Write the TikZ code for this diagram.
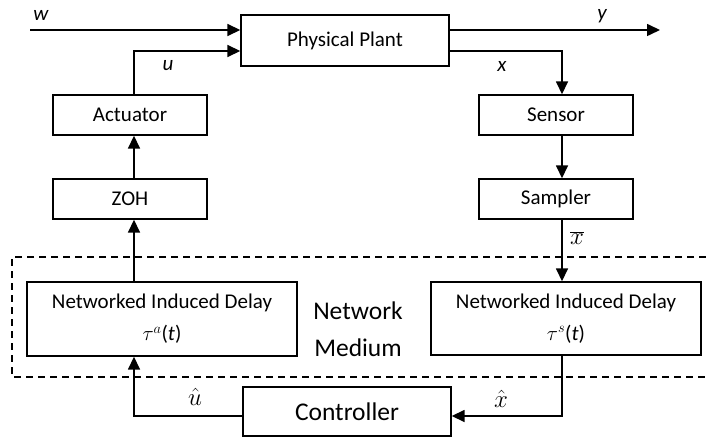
\documentclass[tikz,border=0pt]{standalone}
\usepackage{fontspec}
\setmainfont{Carlito}
\usetikzlibrary{arrows.meta}
\begin{document}
\begin{tikzpicture}[x=1pt,y=-1pt,
  blk/.style={draw,line width=1.4pt,inner sep=0pt,font=\fontsize{21}{25}\selectfont,align=center},
  nid/.style={blk,font=\fontsize{21}{32}\selectfont},
  conn/.style={line width=1.6pt},
  arr/.style={conn,-{Triangle[length=13pt,width=12pt]}},
  lbl/.style={font=\fontsize{21}{25}\selectfont\itshape,inner sep=0pt},
  mlbl/.style={font=\fontsize{23}{25}\selectfont,inner sep=0pt},
  big/.style={font=\fontsize{25.5}{37}\selectfont,align=center,inner sep=0pt}]
\useasboundingbox (0,0) rectangle (706,438);

% blocks
\node[blk,minimum width=208pt,minimum height=51pt] (plant) at (345,40.5) {Physical Plant};
\node[blk,minimum width=154pt,minimum height=40pt] (act) at (130,115) {\raisebox{-3pt}{Actuator}};
\node[blk,minimum width=154pt,minimum height=40pt] (zoh) at (130,199) {\raisebox{-2pt}{ZOH}};
\node[blk,minimum width=154pt,minimum height=40pt] (sensor) at (556,115) {\raisebox{-3pt}{Sensor}};
\node[blk,minimum width=154pt,minimum height=40pt] (sampler) at (556,199) {\raisebox{-3pt}{Sampler}};
\node[nid,minimum width=270pt,minimum height=74pt] (nida) at (162,319) {Networked Induced Delay\\$\tau^{a}$(\textit{t})};
\node[nid,minimum width=270pt,minimum height=73pt] (nids) at (566,318.5) {Networked Induced Delay\\$\tau^{s}$(\textit{t})};
\node[blk,font=\fontsize{25.5}{30}\selectfont,minimum width=208pt,minimum height=49pt] (ctrl) at (347,411.5) {Controller};

% network medium
\draw[line width=1.4pt,dash pattern=on 7pt off 5pt] (706,257) -- (12,257) -- (12,377) -- (706,377);
\node[big] (nm) at (358,329.5) {Network\\Medium};

% coordinates
\coordinate (wstart) at (30,30);
\coordinate (yend) at (660,30);
\coordinate (lx) at (134,51);
\coordinate (rx) at (562,51);
\coordinate (lb) at (134,416);
\coordinate (rb) at (562,416);

% connectors
\draw[arr] (wstart) -- (wstart -| plant.west);
\draw[arr] (plant.east |- yend) -- (yend);
\draw[arr] (act.north -| lx) -- (lx) -- (lx -| plant.west);
\draw[arr] (plant.east |- rx) -- (rx) -- (sensor.north -| rx);
\draw[arr] (sensor.south -| rx) -- (sampler.north -| rx);
\draw[arr] (sampler.south -| rx) -- (nids.north -| rx);
\draw[arr] (nids.south -| rx) -- (rb) -- (ctrl.east |- rb);
\draw[arr] (ctrl.west |- lb) -- (lb) -- (nida.south -| lb);
\draw[arr] (nida.north -| lx) -- (zoh.south -| lx);
\draw[arr] (zoh.north -| lx) -- (act.south -| lx);

% labels
\node[lbl] (lw) at (41,15) {w};
\node[lbl] (ly) at (602,16) {y};
\node[lbl] (lu) at (168,66) {u};
\node[lbl] (lxx) at (502,66) {x};
\node[mlbl] (lxbar) at (577,238) {$\overline{x}$};
\node[mlbl] (luhat) at (195,397) {$\hat{u}$};
\node[mlbl] (lxhat) at (501,399) {$\hat{x}$};
\end{tikzpicture}
\end{document}
